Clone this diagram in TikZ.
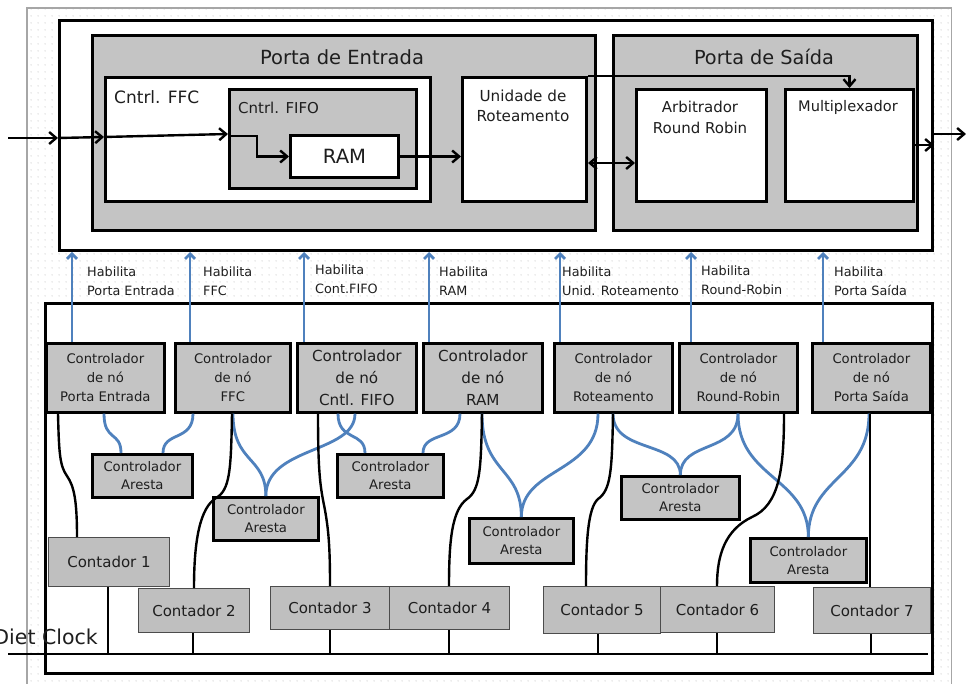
\documentclass[tikz,border=0pt]{standalone}
\usepackage{fontspec}
\setmainfont{DejaVu Sans}
\usetikzlibrary{arrows.meta,patterns.meta,calc}

\definecolor{habblue}{HTML}{4F81BD}
\definecolor{ink}{HTML}{1E1E1E}
\definecolor{boxgray}{HTML}{C4C4C4}
\definecolor{cntgray}{HTML}{BFBFBF}

% fine dot grid used behind the whole schematic
\tikzdeclarepattern{
  name=bgdots,
  type=uncolored,
  bounding box={(0pt,0pt) and (7pt,7pt)},
  tile size={(7pt,7pt)},
  code={\fill (3.5pt,3.5pt) circle (0.6pt);}
}

\newcommand\fs[2]{\fontsize{#1pt}{#2pt}\selectfont}
% rectangular node given by its top-left and bottom-right corners
\newcommand\rectnode[7]{%
  \node[#2, anchor=north west, minimum width={(#5)-(#3)}, minimum height={(#6)-(#4)}] (#1) at (#3,#4) {#7};}

\tikzset{
  blk/.style={draw=black, line width=3pt, inner sep=1pt},
  grbox/.style={blk, fill=boxgray},
  whbox/.style={blk, fill=white},
  ctrl/.style={grbox, line width=2.7pt, align=center, font=\fs{13.2}{19}, text=ink},
  ctrlbig/.style={ctrl, font=\fs{15.2}{22}},
  arista/.style={ctrl, font=\fs{13.2}{18}},
  cnt/.style={draw=black!70, line width=1pt, fill=cntgray, inner sep=1pt, font=\fs{15}{18}, text=ink},
  hab/.style={anchor=west, align=left, inner sep=0pt, font=\fs{12.8}{19}, text=ink},
  title/.style={inner sep=0pt, text=ink},
  enable/.style={draw=habblue, line width=2.8pt, -{Straight Barb[length=5pt,width=10pt]}},
  link/.style={draw=habblue, line width=2.8pt},
  wire/.style={draw=black, line width=2.4pt},
  arr/.style={draw=black, line width=2.4pt, -{Straight Barb[length=7pt,width=12pt]}},
  arrboth/.style={draw=black, line width=2.4pt, {Straight Barb[length=7pt,width=12pt]}-{Straight Barb[length=7pt,width=12pt]}},
}

\begin{document}
\begin{tikzpicture}[x=1pt, y=-1pt]
\useasboundingbox (0,0) rectangle (966,684);

% dotted sheet with its thin grey edge
\rectnode{sheet}{pattern=bgdots, pattern color=gray!60, inner sep=0pt}{27}{8}{951}{690}{}
\draw[gray!70, line width=1.2pt] (sheet.south west) -- (sheet.north west) -- (sheet.north east) -- (sheet.south east);

% ---------------- data path ----------------
\rectnode{top}{whbox}{58}{19}{931}{249}{}
\rectnode{pin}{grbox}{91}{34}{594}{229}{}
\rectnode{pout}{grbox}{612}{34}{916}{229}{}
\rectnode{ffc}{whbox}{104}{76}{429}{200}{}
\rectnode{fifo}{grbox}{228}{88}{415}{187}{}
\rectnode{ram}{whbox}{289}{134}{397}{176}{}
\rectnode{rot}{whbox}{461}{76}{585}{200}{}
\rectnode{arb}{whbox}{635}{88}{765}{200}{}
\rectnode{mux}{whbox}{784}{88}{912}{200}{}

\node[title, font=\fs{19.5}{23}] (tin) at (342,57) {Porta de Entrada};
\node[title, font=\fs{19.3}{23}] (tout) at (764,57) {Porta de Saída};
\node[title, anchor=west, font=\fs{17}{20}] (tffc) at (114,97) {Cntrl. FFC};
\node[title, anchor=west, font=\fs{15}{18}] (tfifo) at (238,108) {Cntrl. FIFO};
\node[title, font=\fs{19.6}{22}] (tram) at (ram.center) {RAM};
\node[title, align=center, font=\fs{15.2}{20}] (trot) at (523,106) {Unidade de\\Roteamento};
\node[title, align=center, font=\fs{15}{21}] (tarb) at (700,117.5) {Arbitrador\\Round Robin};
\node[title, font=\fs{14.6}{20}] (tmux) at (848,107) {Multiplexador};

\coordinate (inL) at (8,138);
\coordinate (outR) at (966,134);
\draw[arr] (inL) -- (inL -| top.west);
\draw[arr] (inL -| top.west) -- (ffc.west |- 0,137);
\draw[arr] (ffc.west |- 0,137) -- (fifo.west |- 0,134);
\draw[arr] (fifo.west |- 0,136) -- (257,136) -- (257,0 |- ram.west) -- (ram.west);
\draw[arr] (ram.east) -- (ram.east -| rot.west);
\draw[arr] (rot.north east) -- (rot.north east -| mux.north) -- (mux.north);
\draw[arrboth] (rot.east |- 0,163) -- (arb.west |- 0,163);
\draw[arr] (mux.east |- 0,145) -- (top.east |- 0,145);
\draw[arr] (top.east |- outR) -- (outR);

% ---------------- control path ----------------
\rectnode{bot}{whbox}{44}{302}{931}{672}{}

\rectnode{c1}{ctrl}{45}{342}{163}{411}{Controlador\\de nó\\Porta Entrada}
\rectnode{c2}{ctrl}{174}{342}{289}{411}{Controlador\\de nó\\FFC}
\rectnode{c3}{ctrlbig}{296}{342}{415}{411}{Controlador\\de nó\\Cntl. FIFO}
\rectnode{c4}{ctrlbig}{422}{342}{541}{411}{Controlador\\de nó\\RAM}
\rectnode{c5}{ctrl}{553}{342}{671}{411}{Controlador\\de nó\\Roteamento}
\rectnode{c6}{ctrl}{678}{342}{796}{411}{Controlador\\de nó\\Round-Robin}
\rectnode{c7}{ctrl}{811}{342}{929}{411}{Controlador\\de nó\\Porta Saída}

% enable signals
\draw[enable] (72,0 |- c1.north) -- (72,0 |- top.south);
\draw[enable] (190,0 |- c2.north) -- (190,0 |- top.south);
\draw[enable] (304,0 |- c3.north) -- (304,0 |- top.south);
\draw[enable] (429,0 |- c4.north) -- (429,0 |- top.south);
\draw[enable] (560,0 |- c5.north) -- (560,0 |- top.south);
\draw[enable] (691,0 |- c6.north) -- (691,0 |- top.south);
\draw[enable] (823,0 |- c7.north) -- (823,0 |- top.south);

\node[hab] (h1) at (87,281.5) {Habilita\\Porta Entrada};
\node[hab] (h2) at (203,281.5) {Habilita\\FFC};
\node[hab] (h3) at (315,279) {Habilita\\Cont.FIFO};
\node[hab] (h4) at (439,281.5) {Habilita\\RAM};
\node[hab] (h5) at (562,281.5) {Habilita\\Unid. Roteamento};
\node[hab] (h6) at (701,280) {Habilita\\Round-Robin};
\node[hab] (h7) at (834,281.5) {Habilita\\Porta Saída};

% edge controllers
\rectnode{a1}{arista}{91}{453}{191}{496}{Controlador\\Aresta}
\rectnode{a2}{arista}{212}{496}{317}{539}{Controlador\\Aresta}
\rectnode{a3}{arista}{336}{453}{442}{496}{Controlador\\Aresta}
\rectnode{a4}{arista}{468}{517}{572}{562}{Controlador\\Aresta}
\rectnode{a5}{arista}{620}{475}{738}{518}{Controlador\\Aresta}
\rectnode{a6}{arista}{749}{537}{865}{581}{Controlador\\Aresta}

% links between node controllers and edge controllers
\draw[link] (104,0 |- c1.south) .. controls +(0,28) and +(0,-22) .. (121,0 |- a1.north);
\draw[link] (193,0 |- c2.south) .. controls +(0,28) and +(0,-22) .. (163,0 |- a1.north);
\draw[link] (233,0 |- c2.south) .. controls +(0,50) and +(0,-40) .. (a2.north);
\draw[link] (355,0 |- c3.south) .. controls +(0,40) and +(0,-50) .. (a2.north);
\draw[link] (338,0 |- c3.south) .. controls +(0,28) and +(0,-22) .. (365,0 |- a3.north);
\draw[link] (460,0 |- c4.south) .. controls +(0,28) and +(0,-22) .. (423,0 |- a3.north);
\draw[link] (482,0 |- c4.south) .. controls +(0,60) and +(0,-50) .. (a4.north);
\draw[link] (598,0 |- c5.south) .. controls +(0,60) and +(0,-50) .. (a4.north);
\draw[link] (613,0 |- c5.south) .. controls +(0,40) and +(0,-35) .. (a5.north);
\draw[link] (738,0 |- c6.south) .. controls +(0,40) and +(0,-35) .. (a5.north);
\draw[link] (738,0 |- c6.south) .. controls +(0,65) and +(0,-60) .. (a6.north);
\draw[link] (869,0 |- c7.south) .. controls +(0,65) and +(0,-60) .. (a6.north);

% counters
\rectnode{k1}{cnt}{48}{537}{169}{586}{Contador 1}
\rectnode{k2}{cnt}{138}{588}{249}{632}{Contador 2}
\rectnode{k3}{cnt}{270}{586}{389}{629}{Contador 3}
\rectnode{k4}{cnt}{389}{586}{509}{629}{Contador 4}
\rectnode{k5}{cnt}{543}{586}{660}{633}{Contador 5}
\rectnode{k6}{cnt}{660}{586}{774}{632}{Contador 6}
\rectnode{k7}{cnt}{813}{587}{930}{633}{Contador 7}

% node controllers to their counters
\draw[wire] (58,0 |- c1.south) .. controls (59,455) and (60,466) .. (67,476)
  .. controls (74,486) and (77,500) .. (77,0 |- k1.north);
\draw[wire] (232,0 |- c2.south) .. controls (231,470) and (230,490) .. (216,498)
  .. controls (200,508) and (194,540) .. (194,0 |- k2.north);
\draw[wire] (318,0 |- c3.south) .. controls (318,470) and (320,485) .. (324,505)
  .. controls (329,530) and (330,550) .. (330,0 |- k3.north);
\draw[wire] (482,0 |- c4.south) .. controls (481,470) and (480,490) .. (467,499)
  .. controls (452,510) and (449,540) .. (449,0 |- k4.north);
\draw[wire] (613,0 |- c5.south) .. controls (612,470) and (611,490) .. (598,499)
  .. controls (588,508) and (586,540) .. (586,0 |- k5.north);
\draw[wire] (784,0 |- c6.south) .. controls (784,470) and (779,505) .. (752,517)
  .. controls (725,530) and (717,555) .. (717,0 |- k6.north);
\draw[wire] (870,0 |- c7.south) -- (870,0 |- k7.north);

% clock distribution
\coordinate (clkL) at (8,654);
\coordinate (clkR) at (928,654);
\draw[wire] (clkL) -- (clkR);
\draw[wire] (108,0 |- k1.south) -- (108,0 |- clkL);
\draw[wire] (193,0 |- k2.south) -- (193,0 |- clkL);
\draw[wire] (330,0 |- k3.south) -- (330,0 |- clkL);
\draw[wire] (449,0 |- k4.south) -- (449,0 |- clkL);
\draw[wire] (598,0 |- k5.south) -- (598,0 |- clkL);
\draw[wire] (717,0 |- k6.south) -- (717,0 |- clkL);
\draw[wire] (871,0 |- k7.south) -- (871,0 |- clkL);
\node[title, anchor=east, font=\fs{20.5}{23}] (clk) at (98,637) {Diet Clock};

\end{tikzpicture}
\end{document}
